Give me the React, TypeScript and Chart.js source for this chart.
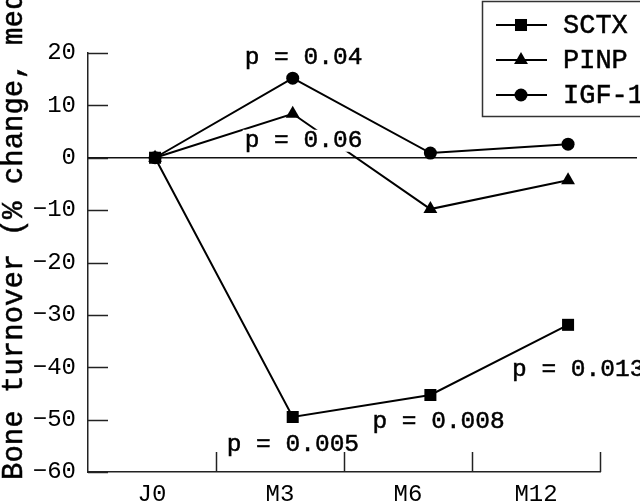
import React, { useEffect, useRef } from "react";
import { Chart, registerables } from "chart.js";

Chart.register(...registerables);

const categories = ["J0", "M3", "M6", "M12"];
const pointIndex = [0, 1, 2, 3];
const sctx = [0, -49.5, -45.3, -31.9];
const pinp = [0, 8.4, -9.8, -4.3];
const igf1 = [0, 15.2, 0.9, 2.6];
const seriesNames = ["SCTX", "PINP", "IGF-1"];
const yTicks = [-60, -50, -40, -30, -20, -10, 0, 10, 20];
const yTitle = "Bone turnover (% change, median)";
// p-value labels: [dataset, point, text]
const pLabels: [number, number, string][] = [
  [2, 1, "p = 0.04"],
  [1, 1, "p = 0.06"],
  [0, 1, "p = 0.005"],
  [0, 2, "p = 0.008"],
  [0, 3, "p = 0.013"],
];

const FONT = "'Liberation Mono', 'Courier New', monospace";
const INK = "#000";

const customDraw = {
  id: "customDraw",
  beforeDatasetsDraw(chart: any) {
    const { ctx, chartArea } = chart;
    const y = chart.scales.y;
    ctx.save();
    ctx.strokeStyle = "#111";
    ctx.lineWidth = 1.5;
    const y0 = y.getPixelForValue(0);
    ctx.beginPath();
    ctx.moveTo(chartArea.left, y0);
    ctx.lineTo(637, y0);
    ctx.stroke();
    ctx.restore();
  },
  afterDatasetsDraw(chart: any) {
    const { ctx, chartArea } = chart;
    const y = chart.scales.y;
    ctx.save();
    ctx.strokeStyle = "#222";
    ctx.lineWidth = 1.5;
    yTicks.forEach((v) => {
      const py = Math.round(y.getPixelForValue(v)) + 0.5;
      ctx.beginPath();
      ctx.moveTo(chartArea.left, py);
      ctx.lineTo(chartArea.left + 20, py);
      ctx.stroke();
    });
    const n = categories.length;
    const w = (chartArea.right - chartArea.left) / n;
    for (let i = 1; i <= n; i++) {
      const px = Math.round(chartArea.left + i * w) + 0.5;
      ctx.beginPath();
      ctx.moveTo(px, chartArea.bottom);
      ctx.lineTo(px, chartArea.bottom - 20);
      ctx.stroke();
    }
    const offsets = [
      [-48, -21, false],
      [-48, 27, true],
      [-66, 28, false],
      [-58, 27, false],
      [-56, 45, false],
    ];
    ctx.font = `24.5px ${FONT}`;
    ctx.textBaseline = "middle";
    ctx.textAlign = "left";
    pLabels.forEach(([ds, pi, text], k) => {
      const el = chart.getDatasetMeta(ds).data[pi];
      const [dx, dy, bg] = offsets[k] as [number, number, boolean];
      const tx = el.x + dx;
      const ty = el.y + dy;
      const tw = ctx.measureText(text).width;
      if (bg) {
        ctx.fillStyle = "#fff";
        ctx.fillRect(tx - 2, ty - 11, tw + 4, 22);
      }
      ctx.fillStyle = INK;
      ctx.strokeStyle = INK;
      ctx.lineWidth = 0.5;
      ctx.fillText(text, tx, ty);
      ctx.strokeText(text, tx, ty);
    });
    ctx.restore();
  },
  afterDraw(chart: any) {
    const { ctx } = chart;
    ctx.save();
    ctx.translate(22, 480);
    ctx.rotate(-Math.PI / 2);
    ctx.font = `29px ${FONT}`;
    ctx.fillStyle = INK;
    ctx.strokeStyle = INK;
    ctx.lineWidth = 0.5;
    ctx.textAlign = "left";
    ctx.textBaseline = "alphabetic";
    ctx.fillText(yTitle, 0, 0);
    ctx.strokeText(yTitle, 0, 0);
    ctx.restore();

    ctx.save();
    ctx.strokeStyle = "#333";
    ctx.lineWidth = 1.5;
    ctx.strokeRect(482.5, 1.5, 200, 115);
    const rowsY = [25, 60, 95];
    chart.data.datasets.forEach((ds: any, i: number) => {
      const yy = rowsY[i];
      ctx.strokeStyle = INK;
      ctx.lineWidth = 2;
      ctx.beginPath();
      ctx.moveTo(496, yy);
      ctx.lineTo(547, yy);
      ctx.stroke();
      ctx.fillStyle = INK;
      ctx.beginPath();
      const r = ds.pointRadius;
      if (ds.pointStyle === "rect") {
        const s = r * Math.SQRT1_2;
        ctx.fillRect(521 - s, yy - s, 2 * s, 2 * s);
      } else if (ds.pointStyle === "triangle") {
        ctx.moveTo(521, yy - r);
        ctx.lineTo(521 + 0.866 * r, yy + 0.5 * r);
        ctx.lineTo(521 - 0.866 * r, yy + 0.5 * r);
        ctx.closePath();
        ctx.fill();
      } else {
        ctx.arc(521, yy, r, 0, Math.PI * 2);
        ctx.fill();
      }
      ctx.font = `27px ${FONT}`;
      ctx.textBaseline = "middle";
      ctx.textAlign = "left";
      ctx.lineWidth = 0.5;
      ctx.fillText(ds.label, 563, yy + 1);
      ctx.strokeText(ds.label, 563, yy + 1);
    });
    ctx.restore();
  },
};

export default function App() {
  const ref = useRef<HTMLCanvasElement>(null);
  useEffect(() => {
    if (!ref.current) return;
    const mk = (label: string, values: number[], style: string, r: number) => ({
      label,
      data: pointIndex.map((x, i) => ({ x, y: values[i] })),
      borderColor: INK,
      backgroundColor: INK,
      borderWidth: 2,
      pointStyle: style,
      pointRadius: r,
      pointBorderWidth: 0,
      pointBackgroundColor: INK,
      xAxisID: "x",
      yAxisID: "y",
      tension: 0,
    });
    const chart = new Chart(ref.current, {
      type: "line",
      data: {
        labels: categories,
        datasets: [
          mk(seriesNames[0], sctx, "rect", 8.5),
          mk(seriesNames[1], pinp, "triangle", 8),
          mk(seriesNames[2], igf1, "circle", 6.5),
        ] as any,
      },
      plugins: [customDraw],
      options: {
        animation: false,
        responsive: false,
        devicePixelRatio: 1,
        layout: { padding: { left: 0, top: 53, right: 40, bottom: 0 } },
        plugins: { legend: { display: false }, tooltip: { enabled: false } },
        scales: {
          x: {
            type: "linear",
            display: false,
            min: -0.487,
            max: 3.232,
          },
          xc: {
            type: "category",
            labels: categories,
            position: "bottom",
            offset: true,
            grid: { display: false, drawTicks: false },
            border: { display: true, color: "#222", width: 1.5 },
            ticks: {
              color: INK,
              font: { family: FONT, size: 24 },
              padding: 8,
              maxRotation: 0,
            },
            afterFit: (s: any) => {
              s.height = 31;
            },
          },
          y: {
            type: "linear",
            min: -60,
            max: 20,
            grid: { display: false, drawTicks: false },
            border: { display: true, color: "#222", width: 1.5 },
            ticks: {
              stepSize: 10,
              color: INK,
              padding: 12,
              font: { family: FONT, size: 24 },
              callback: (v: any) => (v < 0 ? "\u2212" + Math.abs(v) : String(v)),
            },
            afterFit: (s: any) => {
              s.width = 88;
            },
          },
        } as any,
      },
    });
    return () => chart.destroy();
  }, []);
  return (
    <div style={{ position: "absolute", left: 0, top: 0, width: 640, height: 503, background: "#fff" }}>
      <canvas ref={ref} width={640} height={503} style={{ width: 640, height: 503 }} />
    </div>
  );
}
